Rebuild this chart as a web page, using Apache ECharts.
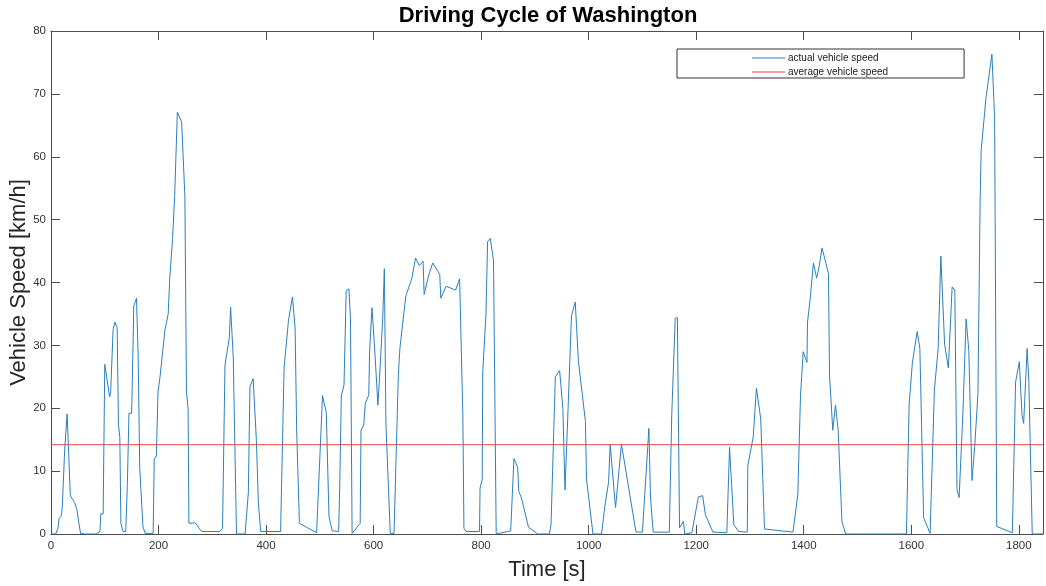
<!DOCTYPE html>
<html>
<head>
<meta charset="utf-8">
<script src="https://cdn.jsdelivr.net/npm/echarts@6/dist/echarts.min.js"></script>
<style>
  html, body { margin: 0; padding: 0; background: #fff; }
  #chart { width: 1046px; height: 586px; }
</style>
</head>
<body>
<div id="chart"></div>
<script>
// Washington driving cycle
const timeS = [
  0, 8.7, 13, 15, 19, 21, 23.6, 25.5, 28, 30, 33, 36, 44, 48, 52, 55, 63, 84, 91, 92.5, 97,
  100, 103, 109, 111, 115.5, 119, 123, 125.5, 128, 130, 134, 139, 142, 145, 150, 154, 159, 162, 164,
  165, 168, 171, 175, 190, 192, 196, 199, 202.5, 212, 218, 221, 226, 230, 235, 238.5, 243, 249, 252,
  255, 256.5, 268, 280, 314, 319, 323.6, 331.7, 334, 339, 345, 361, 367, 370, 376, 382, 385.7, 390,
  427, 433.5, 441.6, 449, 454, 457, 462, 494, 505, 512, 517, 523, 535, 537, 540, 545, 549, 554, 557,
  560, 563, 575, 576.6, 581.5, 584.6, 591, 592.6, 597, 603, 608, 612, 617, 620, 623, 631, 638, 646,
  649, 654, 660, 671, 678, 685, 692, 694, 703, 710, 723, 725, 735, 752.6, 760, 766, 768, 772, 797,
  798, 802, 803, 809, 812, 817, 823, 828, 834, 855, 861, 868, 870, 875, 888, 905, 927, 930, 938, 946,
  952, 956, 961, 968, 975, 981, 994, 996, 1008, 1024, 1030, 1037, 1040, 1050, 1061, 1088, 1100, 1112,
  1115, 1120, 1150, 1154.5, 1161, 1165, 1169, 1176, 1179, 1192, 1204, 1212, 1217, 1231, 1257, 1262,
  1270, 1279, 1295, 1296, 1306, 1312, 1320, 1327, 1380, 1389, 1394, 1399, 1406, 1407, 1412, 1418,
  1424, 1429, 1434, 1440, 1446, 1448, 1454, 1459, 1464, 1471, 1478, 1591, 1596, 1602, 1611, 1616,
  1623, 1635, 1643, 1650, 1655, 1662, 1669, 1676, 1681, 1685, 1689, 1696, 1702, 1707, 1713, 1718,
  1724, 1728, 1730, 1739, 1750, 1755, 1759, 1788, 1794, 1801, 1806, 1809, 1815.5, 1818.6, 1825, 1845
];
const speedKmh = [
  0, 0, 0.9, 2.5, 2.8, 4.3, 4.4, 13.5, 13.8, 19.1, 18.9, 6.1, 5.0, 3.9, 1.7, 0.1, 0, 0, 0.4, 3.2, 3.2,
  27, 26.9, 21.8, 22.6, 32.5, 33.7, 32.8, 17.3, 15.4, 1.7, 0.4, 0.4, 7.9, 19.2, 19.2, 36.3, 37.5, 28.8, 28.5,
  10.6, 10.5, 1.2, 0.1, 0.1, 11.9, 12.4, 22.6, 24.8, 32.5, 35, 40.9, 46.8, 53.7, 67.1, 67.1, 65.5, 53.7, 22.6,
  19.9, 1.7, 1.8, 0.4, 0.4, 0.9, 26.9, 31.2, 36.1, 28, 0, 0, 6.5, 23.4, 24.7, 14.9, 4.9, 0.4,
  0.4, 26.4, 33.9, 37.7, 32.8, 16.2, 1.7, 0.2, 22, 19.3, 2.8, 0.5, 0.4, 7.6, 22, 23.7, 38.7, 39, 34.4,
  0.1, 0.1, 1.7, 16.5, 17.3, 20.8, 22.1, 29.1, 36, 28, 20.5, 26.4, 34.4, 42.2, 17.3, 0.1, 0.1, 25.3,
  29.6, 33.4, 37.9, 40.6, 43.9, 42.7, 43.4, 38.1, 41.3, 43.1, 41.3, 37.5, 39.4, 38.8, 40.6, 18.9, 0.9, 0.4, 0.4,
  7.3, 8.7, 25.8, 35, 46.5, 47, 43.5, 0.1, 0.1, 0.5, 12, 10.6, 6.8, 5.7, 1.1, 0, 0, 1.5, 25, 26,
  20, 7, 18.3, 34.7, 36.9, 27.4, 17.9, 8.7, 0, 0, 4.4, 8.2, 14.2, 4.2, 14.3, 0.3, 0.3, 16.8,
  5.8, 0.3, 0.3, 18.9, 34.3, 34.4, 1, 2, 0, 0.2, 5.9, 6.1, 3.1, 0.3, 0.2, 13.8,
  1.5, 0.4, 0.3, 10.9, 15.4, 23.2, 18.3, 0.8, 0.3, 6.3, 22, 29, 27.3, 33.7, 37.4, 43.1,
  40.7, 42.7, 45.5, 43.5, 41.4, 25.2, 16.5, 20.5, 16.6, 2, 0, 0, 20.5, 27.2, 32.2, 29.5,
  2.6, 0.1, 22.9, 29.5, 44.2, 30.2, 26.4, 39.3, 38.8, 7.1, 5.8, 19.2, 34.2, 29.2, 8.5, 13.9,
  22.3, 52.5, 61, 69.4, 76.3, 66.2, 1.2, 0.2, 24.2, 27.4, 18.9, 17.6, 29.5, 24.4, 0, 0
];
const avgSpeed = 14.2;
const xTicks = { min: 0, max: 1845, step: 200 };
const yTicks = { min: 0, max: 80, step: 10 };

const speedData = timeS.map((t, i) => [t, speedKmh[i]]);
const avgData = [[xTicks.min, avgSpeed], [xTicks.max, avgSpeed]];

const axisColor = '#4d4d4d';
const font = '"Liberation Sans", Arial, sans-serif';

function xAxisOf(pos, showLabel, name) {
  return {
    type: 'value', position: pos, min: xTicks.min, max: xTicks.max, interval: xTicks.step,
    name: name, nameLocation: 'middle', nameGap: 25,
    nameTextStyle: { fontSize: 22, color: '#262626', fontFamily: font },
    axisLine: { onZero: false, lineStyle: { color: axisColor, width: 1 } },
    axisTick: { inside: true, length: 9, lineStyle: { color: axisColor } },
    axisLabel: { show: showLabel, fontSize: 11.5, color: '#333', fontFamily: font, margin: 6,
      showMaxLabel: false, formatter: (v) => String(v) },
    splitLine: { show: false },
  };
}
function yAxisOf(pos, showLabel, name) {
  return {
    type: 'value', position: pos, min: yTicks.min, max: yTicks.max, interval: yTicks.step,
    name: name, nameLocation: 'middle', nameGap: 21, nameMoveOverlap: false,
    nameTextStyle: { fontSize: 22, color: '#262626', fontFamily: font },
    axisLine: { show: true, onZero: false, lineStyle: { color: axisColor, width: 1 } },
    axisTick: { show: true, inside: true, length: 9, lineStyle: { color: axisColor } },
    axisLabel: { show: showLabel, fontSize: 11.5, color: '#333', fontFamily: font, margin: 5 },
    splitLine: { show: false },
  };
}

const chart = echarts.init(document.getElementById('chart'));
chart.setOption({
  animation: false,
  backgroundColor: '#fff',
  title: {
    text: 'Driving Cycle of Washington',
    left: 543, top: 0, textAlign: 'center',
    textStyle: { fontSize: 22, fontWeight: 'bold', color: '#000', fontFamily: font },
  },
  legend: {
    left: 677, top: 49,
    orient: 'vertical',
    padding: [4, 76, 1, 75],
    itemGap: 4,
    icon: 'rect',
    itemWidth: 33, itemHeight: 1,
    borderColor: '#333', borderWidth: 1,
    textStyle: { fontSize: 10, color: '#222', fontFamily: font, padding: [0, 0, 0, -2] },
    data: ['actual vehicle speed', 'average vehicle speed'],
  },
  grid: { left: 51, right: 3, top: 31, bottom: 52, containLabel: false, outerBoundsMode: 'none' },
  xAxis: [xAxisOf('bottom', true, 'Time [s]'), xAxisOf('top', false, '')],
  yAxis: [yAxisOf('left', true, 'Vehicle Speed [km/h]'), yAxisOf('right', false, '')],
  series: [
    {
      name: 'actual vehicle speed', type: 'line', data: speedData,
      symbol: 'none', xAxisIndex: 0, yAxisIndex: 0,
      lineStyle: { color: '#2a7fc0', width: 1 },
      itemStyle: { color: '#2a7fc0' },
    },
    {
      name: 'average vehicle speed', type: 'line', data: avgData,
      symbol: 'none', xAxisIndex: 0, yAxisIndex: 0,
      lineStyle: { color: '#e5484b', width: 1 },
      itemStyle: { color: '#e5484b' },
    },
  ],
});
</script>
</body>
</html>
